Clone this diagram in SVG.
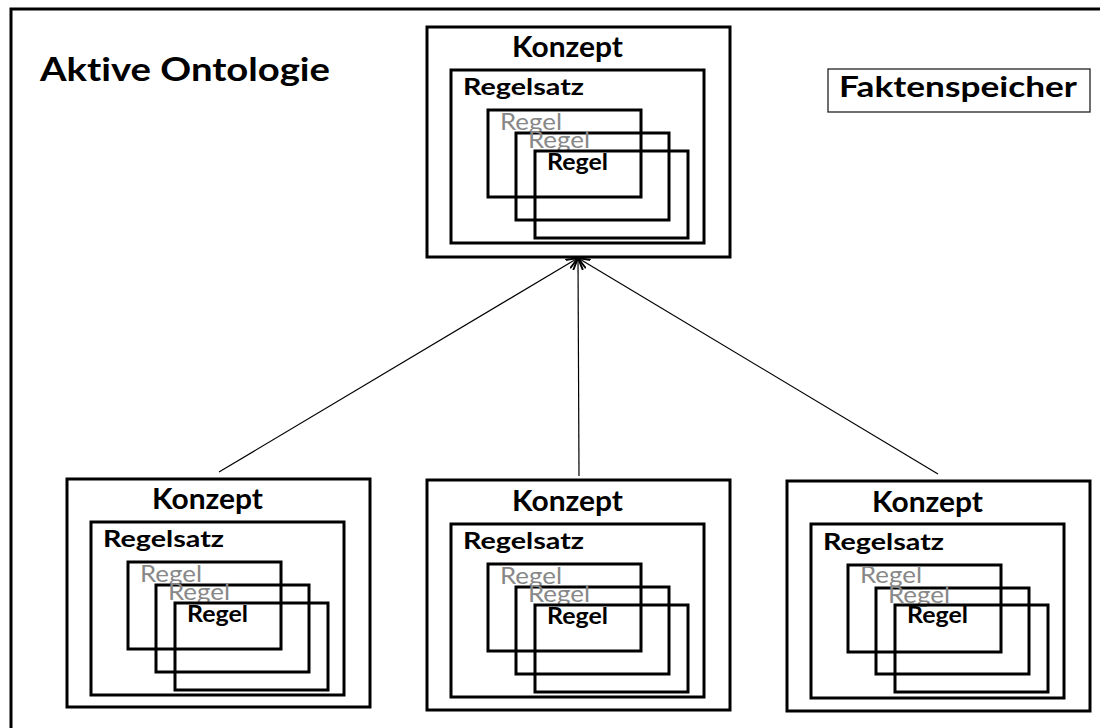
<svg xmlns="http://www.w3.org/2000/svg" width="1100" height="728" viewBox="0 0 1100 728">
  <style>
    text { font-variant-ligatures: none; }
    .frame { fill: none; stroke: #000; stroke-width: 3; }
    .box { fill: none; stroke: #000; stroke-width: 3; }
    .thin { fill: none; stroke: #222; stroke-width: 1.3; }
    .title { font-family: Lato, "Open Sans", sans-serif; font-weight: 700; fill: #000; }
    .konzept { font-family: Lato, "Open Sans", sans-serif; font-weight: 700; font-size: 28px; fill: #000; }
    .satz { font-family: Lato, "Open Sans", sans-serif; font-weight: 700; font-size: 22px; fill: #000; }
    .regel { font-family: Lato, "Open Sans", sans-serif; font-size: 23px; fill: #888; }
    .regelb { font-family: Lato, "Open Sans", sans-serif; font-weight: 700; font-size: 23px; fill: #000; }
    .conn { stroke: #000; stroke-width: 1.2; fill: none; }
  </style>
  <defs>
    <marker id="arrow" markerUnits="userSpaceOnUse" markerWidth="12" markerHeight="12" refX="10" refY="5" orient="auto" viewBox="0 0 10 10">
      <path d="M0,1 L10,5 L0,9" fill="none" stroke="#000" stroke-width="1.6"/>
    </marker>
  </defs>

  <rect width="1100" height="728" fill="#fff"/>

  <!-- surrounding ontology frame (runs past the right and bottom edges) -->
  <g id="ontology">
    <rect class="frame" x="11" y="9" width="1100" height="740"/>
    <text class="title" x="40" y="81" font-size="33" textLength="290" lengthAdjust="spacingAndGlyphs">Aktive Ontologie</text>
  </g>

  <g id="faktenspeicher">
    <rect class="thin" x="828" y="69" width="262" height="43"/>
    <text class="title" x="839" y="97" font-size="29" textLength="238" lengthAdjust="spacingAndGlyphs">Faktenspeicher</text>
  </g>

  <!-- connectors: lower concepts point to the upper concept -->
  <g id="connectors">
    <line class="conn" x1="219" y1="472" x2="578" y2="258" marker-end="url(#arrow)"/>
    <line class="conn" x1="579" y1="476" x2="578" y2="258" marker-end="url(#arrow)"/>
    <line class="conn" x1="938" y1="474" x2="578" y2="258" marker-end="url(#arrow)"/>
  </g>

  <!-- concept node: outer box, rule set, three stacked rules -->
  <g id="konzept-oben" transform="translate(427,27)">
    <rect class="box" x="0" y="0" width="303" height="230"/>
    <text class="konzept" x="85" y="30" textLength="111" lengthAdjust="spacingAndGlyphs">Konzept</text>
    <rect class="box" x="24" y="43" width="253" height="173"/>
    <text class="satz" x="36" y="68" textLength="121" lengthAdjust="spacingAndGlyphs">Regelsatz</text>
    <rect class="box" x="61" y="83" width="153" height="87"/>
    <text class="regel" x="73" y="103" textLength="62" lengthAdjust="spacingAndGlyphs">Regel</text>
    <rect class="box" x="89" y="106" width="153" height="87"/>
    <text class="regel" x="101" y="121" textLength="62" lengthAdjust="spacingAndGlyphs">Regel</text>
    <rect class="box" x="108" y="124" width="153" height="87"/>
    <text class="regelb" x="120" y="143" textLength="61" lengthAdjust="spacingAndGlyphs">Regel</text>
  </g>

  <g id="konzept-links" transform="translate(67,479)">
    <rect class="box" x="0" y="0" width="303" height="228"/>
    <text class="konzept" x="85" y="30" textLength="111" lengthAdjust="spacingAndGlyphs">Konzept</text>
    <rect class="box" x="24" y="43" width="253" height="173"/>
    <text class="satz" x="36" y="68" textLength="121" lengthAdjust="spacingAndGlyphs">Regelsatz</text>
    <rect class="box" x="61" y="83" width="153" height="87"/>
    <text class="regel" x="73" y="103" textLength="62" lengthAdjust="spacingAndGlyphs">Regel</text>
    <rect class="box" x="89" y="106" width="153" height="87"/>
    <text class="regel" x="101" y="121" textLength="62" lengthAdjust="spacingAndGlyphs">Regel</text>
    <rect class="box" x="108" y="124" width="153" height="87"/>
    <text class="regelb" x="120" y="143" textLength="61" lengthAdjust="spacingAndGlyphs">Regel</text>
  </g>

  <g id="konzept-mitte" transform="translate(427,480)">
    <rect class="box" x="0" y="0" width="303" height="230"/>
    <text class="konzept" x="85" y="31" textLength="111" lengthAdjust="spacingAndGlyphs">Konzept</text>
    <rect class="box" x="24" y="44" width="253" height="173"/>
    <text class="satz" x="36" y="69" textLength="121" lengthAdjust="spacingAndGlyphs">Regelsatz</text>
    <rect class="box" x="61" y="84" width="153" height="87"/>
    <text class="regel" x="73" y="104" textLength="62" lengthAdjust="spacingAndGlyphs">Regel</text>
    <rect class="box" x="89" y="107" width="153" height="87"/>
    <text class="regel" x="101" y="122" textLength="62" lengthAdjust="spacingAndGlyphs">Regel</text>
    <rect class="box" x="108" y="125" width="153" height="87"/>
    <text class="regelb" x="120" y="144" textLength="61" lengthAdjust="spacingAndGlyphs">Regel</text>
  </g>

  <g id="konzept-rechts" transform="translate(787,481)">
    <rect class="box" x="0" y="0" width="303" height="230"/>
    <text class="konzept" x="85" y="31" textLength="111" lengthAdjust="spacingAndGlyphs">Konzept</text>
    <rect class="box" x="24" y="43" width="253" height="174"/>
    <text class="satz" x="36" y="69" textLength="121" lengthAdjust="spacingAndGlyphs">Regelsatz</text>
    <rect class="box" x="61" y="84" width="153" height="87"/>
    <text class="regel" x="73" y="102" textLength="62" lengthAdjust="spacingAndGlyphs">Regel</text>
    <rect class="box" x="89" y="107" width="153" height="86"/>
    <text class="regel" x="101" y="122" textLength="62" lengthAdjust="spacingAndGlyphs">Regel</text>
    <rect class="box" x="108" y="124" width="153" height="87"/>
    <text class="regelb" x="120" y="142" textLength="61" lengthAdjust="spacingAndGlyphs">Regel</text>
  </g>
</svg>
